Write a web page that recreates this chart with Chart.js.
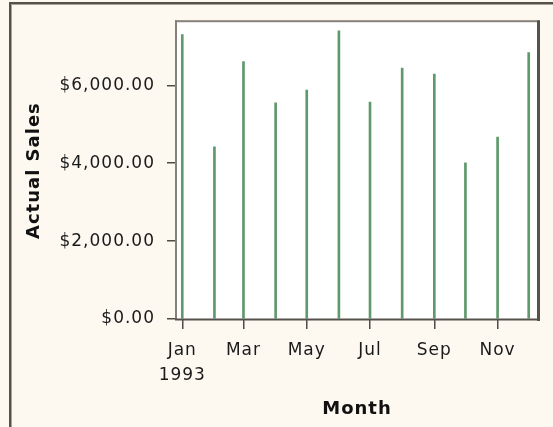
<!DOCTYPE html>
<html>
<head>
<meta charset="utf-8">
<script src="https://cdn.jsdelivr.net/npm/chart.js@4/dist/chart.umd.min.js"></script>
<style>
  html, body { margin: 0; padding: 0; background: #fdf9f1; }
  #wrap { width: 553px; height: 427px; position: relative; }
</style>
</head>
<body>
<div id="wrap"><canvas id="c" width="553" height="427"></canvas></div>
<script>
// ---- data ----
const monthDates = ['1993-01-01','1993-02-01','1993-03-01','1993-04-01','1993-05-01','1993-06-01',
                    '1993-07-01','1993-08-01','1993-09-01','1993-10-01','1993-11-01','1993-12-01'];
const actualSales = [7300, 4420, 6610, 5550, 5880, 7400, 5570, 6440, 6290, 4010, 4670, 6840];
const xTickDates = ['1993-01-01','1993-03-01','1993-05-01','1993-07-01','1993-09-01','1993-11-01'];
const xTickLabels = ['Jan','Mar','May','Jul','Sep','Nov'];
const xTickYear = '1993';
const yTickValues = [0, 2000, 4000, 6000];
const xTitle = 'Month';
const yTitle = 'Actual Sales';

// ---- helpers ----
const base = Date.UTC(1993, 0, 1);
const dayOf = s => { const [y,m,d] = s.split('-').map(Number); return (Date.UTC(y, m-1, d) - base) / 86400000; };
const points = monthDates.map((d, i) => ({ x: dayOf(d), y: actualSales[i] }));

const fmtMoney = v => '$' + Number(v).toLocaleString('en-US', { minimumFractionDigits: 2, maximumFractionDigits: 2 });

const deco = {
  id: 'deco',
  beforeUpdate(chart) { chart.ctx.letterSpacing = '1px'; },
  beforeDraw(chart) {
    const ctx = chart.ctx, a = chart.chartArea;
    ctx.save();
    ctx.letterSpacing = '0px';
    ctx.fillStyle = '#fdf9f1';
    ctx.fillRect(0, 0, chart.width, chart.height);
    // window frame
    ctx.fillStyle = '#56524b';
    ctx.fillRect(9, 2, chart.width - 9, 2);
    ctx.fillRect(9, 2, 2, chart.height - 2);
    ctx.fillStyle = '#a8a398';
    ctx.fillRect(11, 4, chart.width - 11, 1);
    ctx.fillRect(11, 4, 1, chart.height - 4);
    // plot background
    ctx.fillStyle = '#ffffff';
    ctx.fillRect(a.left, a.top, a.right - a.left, a.bottom - a.top);
    ctx.restore();
    ctx.letterSpacing = '1px';
  },
  afterDraw(chart) {
    const ctx = chart.ctx, a = chart.chartArea;
    ctx.save();
    ctx.fillStyle = '#85817a';
    ctx.fillRect(a.left - 2, a.top - 2, a.right - a.left + 2, 2);
    ctx.fillRect(a.left - 2, a.top - 2, 2, a.bottom - a.top + 2);
    ctx.fillStyle = '#55524d';
    ctx.fillRect(a.right, a.top - 2, 3, a.bottom - a.top + 4);
    ctx.fillRect(a.left - 2, a.bottom - 0.5, a.right - a.left + 5, 2);
    ctx.restore();
  }
};

const tickFont = { family: 'DejaVu Sans', size: 17, lineHeight: 25/17 };
const titleFont = { family: 'DejaVu Sans', size: 18, weight: 'bold', lineHeight: 1.2 };

new Chart(document.getElementById('c'), {
  type: 'bar',
  data: {
    datasets: [{
      data: points,
      backgroundColor: '#5f9a6b',
      borderWidth: 0,
      barThickness: 2
    }]
  },
  options: {
    responsive: false,
    animation: false,
    devicePixelRatio: 1,
    layout: { padding: { left: 10, top: 17, right: 16, bottom: 0 } },
    plugins: { legend: { display: false }, tooltip: { enabled: false } },
    scales: {
      x: {
        type: 'linear',
        min: -5.1,
        max: 342,
        offset: false,
        afterBuildTicks: s => { s.ticks = xTickDates.map(d => ({ value: dayOf(d) })); },
        afterFit: s => { s.height = 108; },
        ticks: {
          autoSkip: false, maxRotation: 0, minRotation: 0,
          padding: 9.5, color: '#1a1a1a', font: tickFont,
          callback: (v, i) => i === 0 ? [xTickLabels[i], xTickYear] : xTickLabels[i]
        },
        grid: { offset: false, drawOnChartArea: false, drawTicks: true, tickLength: 10, color: '#4f4c47', lineWidth: 1.5 },
        border: { display: false },
        title: { display: true, text: xTitle, color: '#111', font: titleFont, padding: { top: 0, bottom: 7 } }
      },
      y: {
        min: 0,
        max: 7620,
        afterBuildTicks: s => { s.ticks = yTickValues.map(v => ({ value: v })); },
        afterFit: s => { s.width = 167; },
        ticks: { padding: 12, color: '#1a1a1a', font: { family: 'DejaVu Sans', size: 17 }, callback: v => fmtMoney(v) },
        grid: { drawOnChartArea: false, drawTicks: true, tickLength: 10, color: '#4f4c47', lineWidth: 1.5 },
        border: { display: false },
        title: { display: true, text: yTitle, color: '#111', font: titleFont, padding: { top: 14, bottom: 0 } }
      }
    }
  },
  plugins: [deco]
});
</script>
</body>
</html>
